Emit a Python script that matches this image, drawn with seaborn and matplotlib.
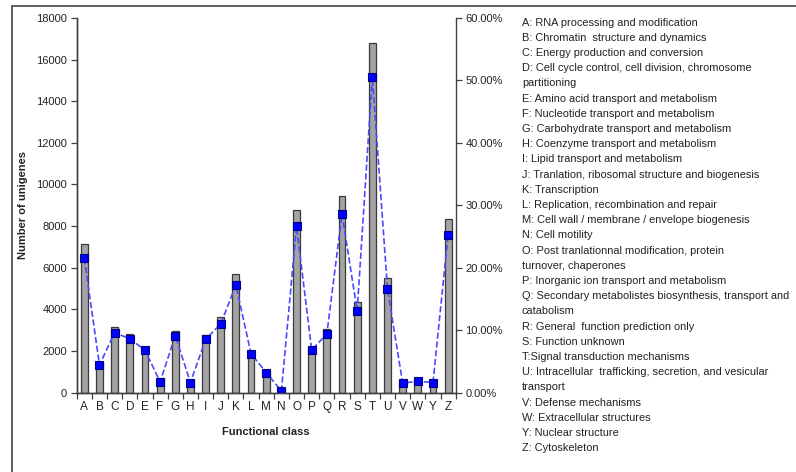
import matplotlib
matplotlib.use("Agg")
import matplotlib.pyplot as plt
from matplotlib.lines import Line2D
from matplotlib.ticker import FuncFormatter, FixedLocator
import seaborn as sns
import pandas as pd
import numpy as np

# COG functional classes
classes = list("ABCDEFGHIJKLMNOPQRSTUVWYZ")
counts = [7130, 1450, 3170, 2800, 2200, 680, 2970, 590, 2760, 3650, 5700,
          2010, 1080, 170, 8780, 2160, 3060, 9460, 4340, 16790, 5500, 550,
          650, 570, 8350]
percents = [21.5, 4.4, 9.6, 8.6, 6.8, 1.7, 9.1, 1.6, 8.5, 11.0, 17.2, 6.2,
            3.2, 0.25, 26.6, 6.8, 9.4, 28.6, 13.1, 50.6, 16.6, 1.5, 1.8,
            1.6, 25.3]
descriptions = [
    "A: RNA processing and modification",
    "B: Chromatin  structure and dynamics",
    "C: Energy production and conversion",
    "D: Cell cycle control, cell division, chromosome\npartitioning",
    "E: Amino acid transport and metabolism",
    "F: Nucleotide transport and metabolism",
    "G: Carbohydrate transport and metabolism",
    "H: Coenzyme transport and metabolism",
    "I: Lipid transport and metabolism",
    "J: Tranlation, ribosomal structure and biogenesis",
    "K: Transcription",
    "L: Replication, recombination and repair",
    "M: Cell wall / membrane / envelope biogenesis",
    "N: Cell motility",
    "O: Post tranlationnal modification, protein\nturnover, chaperones",
    "P: Inorganic ion transport and metabolism",
    "Q: Secondary metabolistes biosynthesis, transport and\ncatabolism",
    "R: General  function prediction only",
    "S: Function unknown",
    "T:Signal transduction mechanisms",
    "U: Intracellular  trafficking, secretion, and vesicular\ntransport",
    "V: Defense mechanisms",
    "W: Extracellular structures",
    "Y: Nuclear structure",
    "Z: Cytoskeleton",
]

df = pd.DataFrame({"cls": classes, "count": counts,
                   "pct": [p / 100 for p in percents]})

sns.set_style("white")
plt.rcParams["font.family"] = ["Liberation Sans", "DejaVu Sans"]
txt = "#222222"
spine_c = "#404040"

fig = plt.figure(figsize=(7.96, 4.72), dpi=100)
ax = fig.add_axes([0.0964, 0.1684, 0.4761, 0.7935])

sns.barplot(data=df, x="cls", y="count", ax=ax, color="#a3a3a3",
            saturation=1, width=0.45, edgecolor="#3a3a3a", linewidth=0.9)
ax.set_ylim(0, 18000)
ax.set_xlim(-0.5, len(classes) - 0.5)
ax.set_yticks(np.arange(0, 18001, 2000))

ax2 = ax.twinx()
sns.pointplot(data=df, x="cls", y="pct", ax=ax2, color="#4a4aff",
              linestyles="--", markers="s", errorbar=None,
              markersize=6, markeredgecolor="#000080",
              markerfacecolor="#0000ff", markeredgewidth=0.8,
              linewidth=1.2)
ax2.set_ylim(0, 0.60)
ax2.set_xlim(-0.5, len(classes) - 0.5)
ax2.set_yticks(np.arange(0, 0.601, 0.10))
ax2.yaxis.set_major_formatter(FuncFormatter(lambda v, _: f"{v * 100:.2f}%"))

for a in (ax, ax2):
    for s in a.spines.values():
        s.set_color(spine_c)
        s.set_linewidth(1.0)
    a.spines["top"].set_visible(False)
    a.set_xlabel("")
    a.set_ylabel("")
ax.spines["right"].set_visible(False)

ax.tick_params(axis="y", which="major", direction="out", length=4, width=0.9,
               color=spine_c, labelsize=8, labelcolor=txt, pad=3, left=True)
ax2.tick_params(axis="y", which="major", direction="out", length=4, width=0.9,
                color=spine_c, labelsize=8, labelcolor=txt, pad=3, right=True)

# category letters centred, tick marks between categories
ax.tick_params(axis="x", which="major", length=0, labelsize=8.5,
               labelcolor=txt, pad=6)
ax.xaxis.set_minor_locator(FixedLocator(np.arange(-0.5, len(classes), 1.0)))
ax.tick_params(axis="x", which="minor", direction="out", length=4, width=0.9,
               color=spine_c, bottom=True)
ax2.tick_params(axis="x", which="both", length=0, labelbottom=False)

ax.set_xlabel("Functional class", fontsize=8, fontweight="bold",
              color=txt, labelpad=10)
ax.set_ylabel("Number of unigenes", fontsize=8, fontweight="bold",
              color=txt, labelpad=6)

# class description list on the right
lines = [ln for d in descriptions for ln in d.split("\n")]
y0, step = 1 - 22.5 / 472, 15.2 / 472
for i, ln in enumerate(lines):
    fig.text(522 / 796, y0 - i * step, ln, fontsize=7.9, color=txt,
             va="center", ha="left")

# outer frame
fx, fy = 11.5 / 796, 1 - 6 / 472
fig.add_artist(Line2D([fx, fx], [0, fy], color="#555555", lw=1.3,
                      transform=fig.transFigure))
fig.add_artist(Line2D([fx, 1], [fy, fy], color="#555555", lw=1.3,
                      transform=fig.transFigure))

fig.savefig("out.png", dpi=100)
